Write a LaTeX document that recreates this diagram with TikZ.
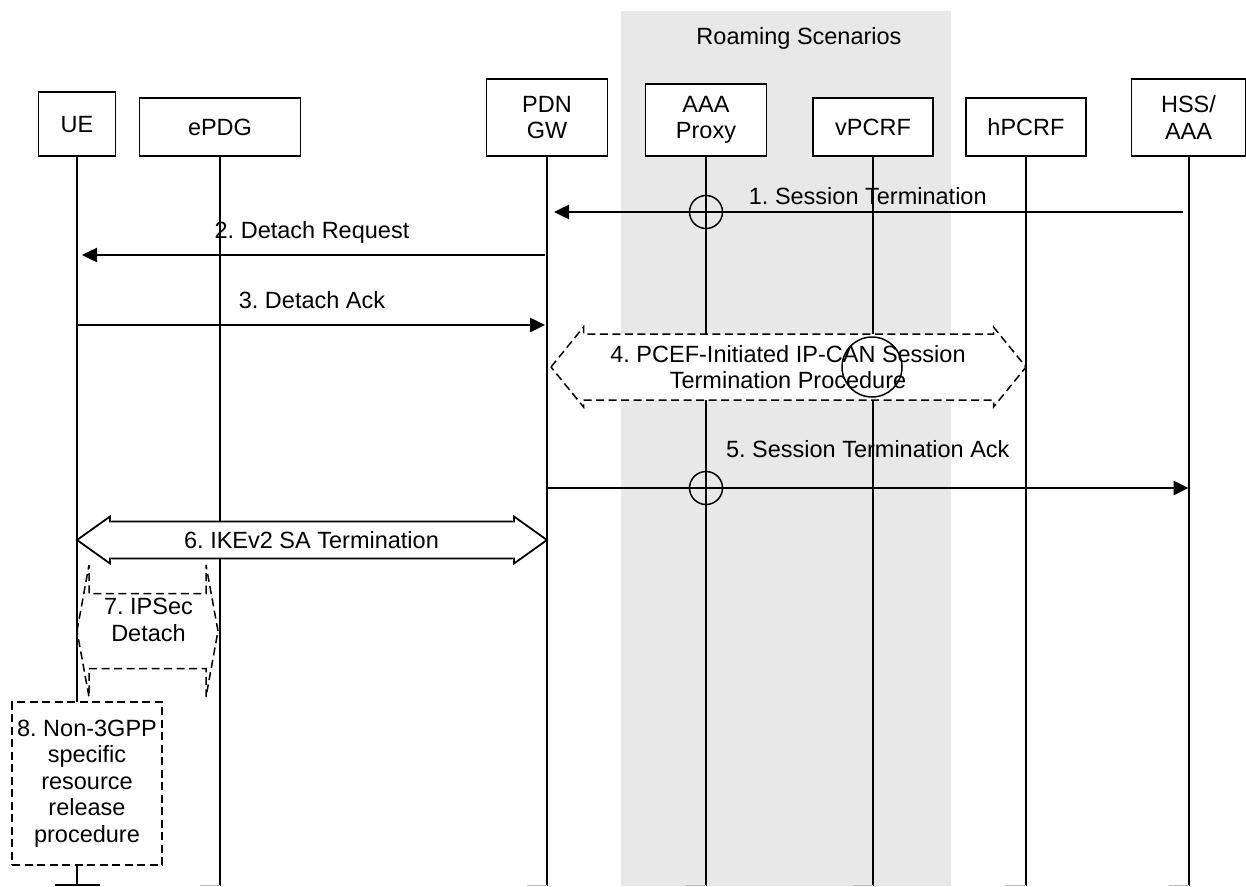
\documentclass[tikz,border=0pt]{standalone}
\usepackage{fontspec}
\setmainfont{Liberation Sans}
\usetikzlibrary{arrows.meta,positioning}
\definecolor{roamgray}{HTML}{E8E8E8}
\tikzset{ent/.style={draw,line width=1.8pt,fill=white,align=center,anchor=south,inner sep=0pt},
 life/.style={line width=2pt},msg/.style={-{Triangle[length=15pt,width=14pt]},line width=2.5pt},
 lbl/.style={anchor=base,inner sep=0pt},bigarr/.style={draw,fill=white,line width=1.8pt,line join=miter},
 proc/.style={draw,fill=white,line width=1.5pt,dash pattern=on 8pt off 4.5pt,line join=miter},
 cross/.style={line width=1.5pt}}

\begin{document}
\frenchspacing
\begin{tikzpicture}[x=1pt,y=-1pt,font=\fontsize{23.5}{26.5}\selectfont]
\useasboundingbox (0,0) rectangle (1246,886);
\fill[roamgray] (621,11) rectangle (951,886);
\node[lbl] (roam) at (799,44) {Roaming Scenarios};

\node[ent,minimum width=77pt,minimum height=64pt] (ue) at (77,157) {UE};
\node[ent,minimum width=161pt,minimum height=58pt] (epdg) at (220,157) {ePDG};
\node[ent,minimum width=121pt,minimum height=77pt] (pdn) at (547,157) {PDN\\GW};
\node[ent,minimum width=121pt,minimum height=72pt] (aaa) at (706,157) {AAA\\Proxy};
\node[ent,minimum width=120pt,minimum height=58pt] (vpcrf) at (873,157) {vPCRF};
\node[ent,minimum width=120pt,minimum height=58pt] (hpcrf) at (1026,157) {hPCRF};
\node[ent,minimum width=114pt,minimum height=77pt] (hss) at (1188.5,157) {HSS/\\AAA};

\coordinate (bot) at (0,886);
\coordinate (m1) at (0,212);
\coordinate (m2) at (0,255);
\coordinate (m3) at (0,325);
\coordinate (m4) at (0,367);
\coordinate (m5) at (0,488);
\coordinate (m6) at (0,540);
\coordinate (m7) at (0,631);
\coordinate (ueend) at (ue.south |- 0,884.5);

\foreach \n in {epdg,pdn,aaa,vpcrf,hpcrf,hss}{
 \draw[life] (\n.south) -- (\n.south |- bot);
 \draw[black!25,line width=1pt] (\n.south |- bot) ++(-20,-0.5) -- ++(20,0);
}
\draw[life] (ue.south) -- (ueend);
\draw[life] (ueend) ++(-22.5,0) -- ++(45,0);

\draw[msg,shorten <=6pt,shorten >=7pt] (hss.south |- m1) -- node[lbl,yshift=8pt]{1. Session Termination} (pdn.south |- m1);
\draw[msg,shorten <=2pt,shorten >=5pt] (pdn.south |- m2) -- node[lbl,yshift=17pt]{2. Detach Request} (ue.south |- m2);
\draw[msg,shorten >=2pt] (ue.south |- m3) -- node[lbl,yshift=17pt]{3. Detach Ack} (pdn.south |- m3);
\draw[msg] (pdn.south |- m5) -- node[lbl,yshift=31pt]{5. Session Termination Ack} (hss.south |- m5);

\path ([xshift=4pt]pdn.south |- m4) coordinate (h4l) (hpcrf.south |- m4) coordinate (h4r);
\draw[proc] (h4l) -- ++(32.5,-40) -- ++(0,7) -- ([xshift=-32.5pt,yshift=33pt]h4r) -- ++(0,-7) -- (h4r)
 -- ++(-32.5,40) -- ++(0,-7) -- ([xshift=32.5pt,yshift=-33pt]h4l) -- ++(0,7) -- cycle;
\node[align=center,inner sep=0pt] (pcef) at (788,367) {4. PCEF-Initiated IP-CAN Session\\Termination Procedure};

\path (ue.south |- m6) coordinate (a6l) (pdn.south |- m6) coordinate (a6r);
\draw[bigarr] (a6l) -- ++(33,-23.5) -- ++(0,5) -- ([xshift=-33pt,yshift=18.5pt]a6r) -- ++(0,-5) -- (a6r)
 -- ++(-33,23.5) -- ++(0,-5) -- ([xshift=33pt,yshift=-18.5pt]a6l) -- ++(0,5) -- cycle;
\node[inner sep=0pt] (ike) at (311.5,540) {6. IKEv2 SA Termination};

\path (ue.south |- m7) coordinate (s7l) ([xshift=-2pt]epdg.south |- m7) coordinate (s7r);
\draw[proc] (s7l) -- ++(12,-66) -- ++(0,28.5) -- ([xshift=-12pt,yshift=37.5pt]s7r) -- ++(0,-28.5) -- (s7r)
 -- ++(-12,66) -- ++(0,-28.5) -- ([xshift=12pt,yshift=-37.5pt]s7l) -- ++(0,28.5) -- cycle;
\node[align=center,inner sep=0pt] (ipsec) at (148.5,620) {7. IPSec\\Detach};

\node[proc,align=center,inner sep=0pt,minimum width=150pt,minimum height=163pt] (nonpp) at (87,783.5)
 {8. Non-3GPP\\specific\\resource\\release\\procedure};

\draw[cross] (aaa.south |- m1) circle[radius=16.5pt];
\draw[cross] (aaa.south |- m5) circle[radius=16.5pt];
\draw[cross] ([xshift=-1pt]vpcrf.south |- m4) circle[radius=30pt];
\end{tikzpicture}
\end{document}
